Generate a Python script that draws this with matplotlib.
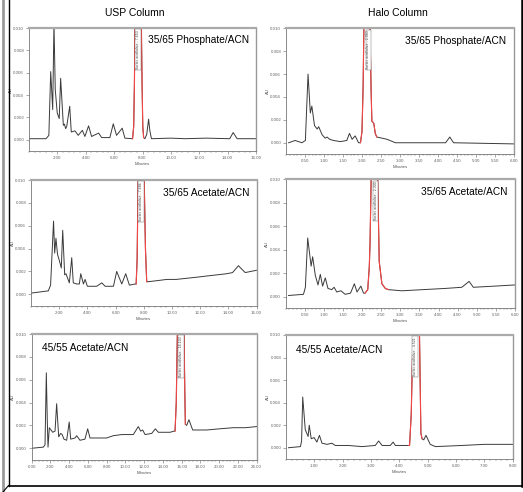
import numpy as np
import matplotlib
matplotlib.use("Agg")
import matplotlib.pyplot as plt
from matplotlib.lines import Line2D
from matplotlib.ticker import AutoMinorLocator, MultipleLocator

plt.rcParams["font.family"] = ["Liberation Sans", "DejaVu Sans"]

W, H = 523, 492

# ---------------------------------------------------------------------------
# Data (minutes, AU)
# ---------------------------------------------------------------------------

col_titles = ["USP Column", "Halo Column"]
row_labels = ["35/65 Phosphate/ACN", "35/65 Acetate/ACN", "45/55 Acetate/ACN"]

# USP, 35/65 phosphate
usp_phos_t = [0.0, 1.20, 1.40, 1.53, 1.67, 1.76, 1.85, 1.99, 2.13, 2.23, 2.42, 2.50, 2.58,
              2.66, 2.87, 2.98, 3.24, 3.47, 3.76, 3.94, 4.20, 4.41, 4.91, 5.12, 5.70,
              5.94, 6.17, 6.57, 6.76, 7.30, 7.38, 7.43, 7.47, 7.92, 7.97, 8.02, 8.08,
              8.17, 8.30, 8.43, 8.52, 8.63, 10.0, 11.0, 12.5, 14.15, 14.39, 14.67, 16.0]
usp_phos_au = [0.0001, 0.0001, 0.0004, 0.0061, 0.0027, 0.0105, 0.0045, 0.0024, 0.0019,
               0.0055, 0.0013, 0.0014, 0.0010, 0.0012, 0.0030, 0.0007, 0.0008, 0.0004,
               0.00085, 0.0003, 0.00125, 0.0003, 0.0006, 0.0002, 0.0002, 0.00143,
               0.0004, 0.00104, 0.00015, 0.0001, 0.0012, 0.0050, 0.0102, 0.0102,
               0.0050, 0.0012, 0.0002, 0.0001, 0.0005, 0.00185, 0.0008, 0.0001,
               0.00015, 0.0001, 0.00015, 0.0001, 0.00065, 0.0001, 0.0001]

# Halo, 35/65 phosphate
halo_phos_t = [0.07, 0.24, 0.42, 0.51, 0.58, 0.64, 0.68, 0.75, 0.82, 0.86, 0.95, 1.03,
               1.08, 1.15, 1.25, 1.43, 1.60, 1.67, 1.74, 1.82, 1.91, 1.96, 2.00, 2.03,
               2.05, 2.21, 2.24, 2.26, 2.31, 2.35, 2.39, 2.53, 2.66, 2.88, 4.20, 4.31,
               4.41, 6.0]
halo_phos_au = [0.0, 0.0002, 0.0, 0.0002, 0.0060, 0.0026, 0.0032, 0.0015, 0.0012, 0.0014,
                0.0007, 0.0004, 0.0005, 0.0003, 0.0002, 0.0001, 0.0002, 0.00082, 0.0003,
                0.0006, 0.0, 0.0, 0.0010, 0.0050, 0.0102, 0.0102, 0.0045, 0.0019,
                0.0017, 0.0008, 0.0005, 0.0004, 0.0003, 0.0, 0.0, 0.0005, 0.0, -0.0001]

# USP, 35/65 acetate
usp_acet_t = [0.0, 1.23, 1.39, 1.60, 1.68, 1.77, 1.88, 2.00, 2.15, 2.25, 2.39, 2.48, 2.60,
              2.72, 2.89, 3.00, 3.24, 3.43, 3.53, 3.72, 3.84, 4.00, 4.66, 5.02, 5.26,
              5.85, 6.08, 6.44, 6.72, 6.98, 7.39, 7.46, 7.53, 7.60, 8.03, 8.12, 8.21,
              8.33, 9.0, 9.63, 10.3, 11.06, 11.8, 12.48, 13.2, 13.9, 14.30, 14.72,
              14.95, 15.20, 15.6, 16.0]
usp_acet_au = [0.0001, 0.0003, 0.0008, 0.0064, 0.0036, 0.0049, 0.0035, 0.0030, 0.0023,
               0.0056, 0.0017, 0.0018, 0.0014, 0.0010, 0.0032, 0.0010, 0.0009, 0.0009,
               0.0018, 0.0009, 0.0013, 0.0007, 0.0007, 0.0010, 0.0007, 0.0007, 0.0020,
               0.0009, 0.0018, 0.0008, 0.0009, 0.0009, 0.0030, 0.0102, 0.0102, 0.0040,
               0.0011, 0.0011, 0.0012, 0.0013, 0.0013, 0.0014, 0.0015, 0.0016, 0.0017,
               0.0018, 0.0019, 0.0025, 0.0022, 0.0019, 0.0020, 0.0021]

# Halo, 35/65 acetate
halo_acet_t = [0.08, 0.47, 0.52, 0.58, 0.67, 0.71, 0.78, 0.85, 0.91, 0.97, 1.04, 1.11,
               1.21, 1.27, 1.34, 1.45, 1.56, 1.70, 1.80, 1.87, 1.97, 2.04, 2.08, 2.15,
               2.19, 2.21, 2.24, 2.41, 2.45, 2.52, 2.61, 2.69, 3.04, 3.60, 4.17, 4.61,
               4.80, 4.91, 5.48, 6.0]
halo_acet_au = [0.0001, 0.0002, 0.0008, 0.0050, 0.0026, 0.0034, 0.0018, 0.0010, 0.0019,
                0.0009, 0.0016, 0.0007, 0.0006, 0.0008, 0.0004, 0.0005, 0.0002, 0.0003,
                0.0011, 0.0004, 0.0009, 0.0003, 0.0003, 0.0006, 0.0025, 0.0045, 0.0102,
                0.0102, 0.0030, 0.0011, 0.0007, 0.0006, 0.0005, 0.0006, 0.0007, 0.0008,
                0.0013, 0.0008, 0.0009, 0.0010]

# USP, 45/55 acetate
usp_4555_t = [0.0, 1.24, 1.42, 1.56, 1.66, 1.74, 1.88, 2.24, 2.49, 2.66, 2.88, 3.09, 3.25,
              3.44, 3.73, 4.00, 4.16, 4.62, 4.80, 5.15, 5.68, 5.97, 6.22, 7.99, 8.70,
              9.60, 10.84, 11.37, 11.62, 11.84, 12.09, 12.80, 13.19, 13.51, 14.76, 15.18,
              15.29, 15.42, 15.54, 16.25, 16.33, 16.39, 16.53, 16.77, 17.17, 18.66,
              20.0, 21.5, 22.8, 24.0]
usp_4555_au = [0.0, 0.0001, 0.0003, 0.0066, 0.0025, 0.0001, 0.0018, 0.0014, 0.0015,
               0.0039, 0.0010, 0.0013, 0.0012, 0.0008, 0.0007, 0.0023, 0.0008, 0.0009,
               0.0011, 0.0007, 0.0008, 0.0017, 0.0009, 0.0009, 0.0011, 0.0012, 0.0012,
               0.0019, 0.0015, 0.0016, 0.0012, 0.0013, 0.0017, 0.0014, 0.0014, 0.0015,
               0.0015, 0.0040, 0.0102, 0.0102, 0.0050, 0.0021, 0.0020, 0.0025, 0.0016,
               0.0016, 0.0017, 0.0018, 0.0018, 0.0019]

# Halo, 45/55 acetate
halo_4555_t = [0.09, 0.51, 0.55, 0.59, 0.68, 0.78, 0.82, 0.89, 0.99, 1.09, 1.18, 1.27,
               1.45, 1.62, 1.74, 2.20, 2.68, 3.15, 3.27, 3.39, 3.68, 3.78, 3.86, 4.33,
               4.36, 4.42, 4.48, 4.71, 4.76, 4.80, 4.86, 4.94, 5.09, 5.27, 6.21, 7.0, 8.0]
halo_4555_au = [0.0, 0.0001, 0.0006, 0.0045, 0.0016, 0.0010, 0.0020, 0.0008, 0.0009,
                0.0005, 0.0011, 0.0004, 0.0003, 0.0004, 0.0002, 0.0002, 0.0001, 0.0002,
                0.0006, 0.0002, 0.0002, 0.0005, 0.0002, 0.0002, 0.0002, 0.0030, 0.0102,
                0.0102, 0.0013, 0.0008, 0.0007, 0.0011, 0.0003, 0.0001, 0.0002, 0.0003,
                0.0003]

# sorbic acid peak window (start, end) in minutes, drawn red
peak_windows = [(7.30, 8.08), (1.96, 2.39), (7.46, 8.21), (2.08, 2.69),
                (15.29, 16.39), (4.33, 4.80)]
peak_names = ["Sorbic acid/olive - 7.653", "Sorbic acid/olive - 2.083",
              "Sorbic acid/olive - 7.686", "Sorbic acid/olive - 2.300",
              "Sorbic acid/olive - 16.103", "Sorbic acid/olive - 4.521"]

traces = [(usp_phos_t, usp_phos_au), (halo_phos_t, halo_phos_au),
          (usp_acet_t, usp_acet_au), (halo_acet_t, halo_acet_au),
          (usp_4555_t, usp_4555_au), (halo_4555_t, halo_4555_au)]

x_ranges = [16, 6, 16, 6, 24, 8]
x_steps = [2, 0.5, 2, 0.5, 2, 1]
x_first = [2, 0.5, 2, 0.5, 0, 1]

# ---------------------------------------------------------------------------
# Layout (pixel boxes: left, top, right, bottom) and label spots
# ---------------------------------------------------------------------------

boxes = [(29, 28, 256, 151), (286, 28.3, 514, 154.2),
         (31, 180, 256.5, 305.7), (285.5, 179.3, 515, 308.4),
         (31.7, 334, 256.7, 459.7), (286, 335, 512.7, 459)]
label_xy = [(0.524, 0.90), (0.52, 0.90), (0.585, 0.897), (0.59, 0.90),
            (0.046, 0.889), (0.044, 0.88)]

fig = plt.figure(figsize=(W / 100, H / 100), dpi=100)
fig.patch.set_facecolor("white")

for i, (t, au) in enumerate(traces):
    l, tp, r, b = boxes[i]
    ax = fig.add_axes([l / W, 1 - b / H, (r - l) / W, (b - tp) / H])
    t = np.array(t)
    au = np.array(au)

    ax.plot(t, au, color="#3a3a3a", lw=0.7, solid_joinstyle="round")
    lo, hi = peak_windows[i]
    m = (t >= lo) & (t <= hi)
    ax.plot(t[m], au[m], color="#f04848", lw=0.85)

    pk_mid = 0.5 * (t[m][2] + t[m][-3]) if m.sum() > 4 else 0.5 * (lo + hi)
    ax.text(pk_mid, 0.0098, peak_names[i], rotation=90, ha="center", va="top",
            fontsize=2.6, color="#444444",
            bbox=dict(boxstyle="square,pad=0.25", fc="white", ec="#666666", lw=0.3))

    ax.set_xlim(0, x_ranges[i])
    ax.set_ylim(-0.001, 0.010)
    ax.xaxis.set_major_locator(MultipleLocator(x_steps[i]))
    ax.xaxis.set_minor_locator(AutoMinorLocator(5))
    ax.set_yticks([0.0, 0.002, 0.004, 0.006, 0.008, 0.010])
    ax.set_yticklabels([f"{v:.3f}" for v in ax.get_yticks()])
    xt = np.arange(x_first[i], x_ranges[i] + 1e-9, x_steps[i])
    ax.set_xticks(xt)
    ax.set_xticklabels([f"{v:.2f}" for v in xt])

    ax.tick_params(axis="both", labelsize=3.2, colors="#666666", length=2, width=0.4, pad=1.5)
    ax.tick_params(axis="x", which="minor", length=1.2, width=0.3, colors="#666666")
    ax.set_xlabel("Minutes", fontsize=3.2, color="#555555", labelpad=1.5)
    ax.set_ylabel("AU", fontsize=3.2, color="#555555", labelpad=0.5)

    for side, sp in ax.spines.items():
        sp.set_color("#777777")
        sp.set_linewidth(0.6)
    ax.spines["top"].set_color("#aaaaaa")
    ax.spines["top"].set_linewidth(1.6)
    ax.spines["right"].set_color("#999999")
    ax.spines["right"].set_linewidth(1.0)

    lx, ly = label_xy[i]
    ax.text(lx, ly, row_labels[i // 2], transform=ax.transAxes, ha="left", va="center",
            fontsize=7.3, color="black")

fig.text(135 / W, 1 - 13 / H, col_titles[0], ha="center", va="center", fontsize=7.5)
fig.text(398 / W, 1 - 13 / H, col_titles[1], ha="center", va="center", fontsize=7.5)

# outer frame
def px_line(xs, ys, **kw):
    fig.add_artist(Line2D([x / W for x in xs], [1 - y / H for y in ys], **kw))

px_line([3, 3], [0, 492], color="#9a9a9a", lw=2.0)
px_line([8.5, 8.5], [0, 485.5], color="black", lw=1.0)
px_line([8.5, 521.5], [485.5, 485.5], color="black", lw=1.2)
px_line([522, 522], [0, 485.5], color="black", lw=1.8)
px_line([8.5, 3], [485.5, 492], color="black", lw=0.8)

fig.savefig("out.png", dpi=100)
